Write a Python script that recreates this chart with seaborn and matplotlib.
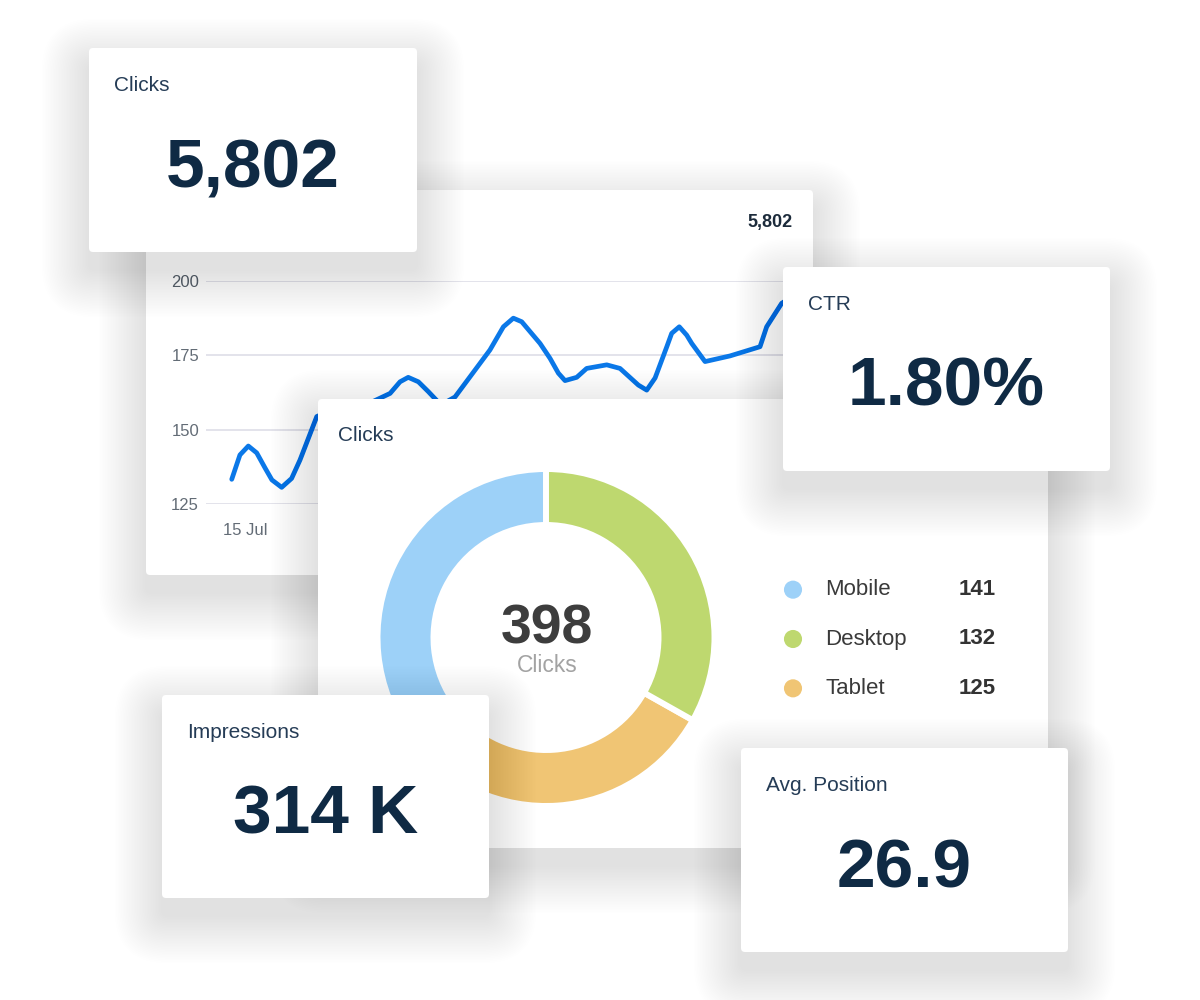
import matplotlib.pyplot as plt
import seaborn as sns
from matplotlib.patches import FancyBboxPatch
from matplotlib.transforms import IdentityTransform

# --- data ---
kpi_labels = ["Clicks", "CTR", "Impressions", "Avg. Position"]
kpi_values = ["5,802", "1.80%", "314 K", "26.9"]

# daily clicks curve (day 0 = 15 Jul)
trend_days = [-0.68, -0.26, 0.17, 0.60, 1.03, 1.38, 1.88, 2.39, 2.82, 3.68,
              5.13, 6.41, 7.44, 7.95, 8.37, 8.89, 9.40, 10.05, 10.77, 12.56,
              13.25, 13.76, 14.19, 15.13, 15.64, 16.07, 16.41, 17.01, 17.52, 18.55,
              19.23, 20.17, 20.60, 21.03, 21.63, 21.88, 22.27, 22.65, 22.91, 23.59,
              24.87, 26.41, 26.75, 27.52, 28.46]
trend_clicks = [133.3, 141.5, 144.5, 142.2, 137.1, 133.1, 130.6, 133.6, 139.8, 154.4,
                158.6, 159.0, 162.2, 166.1, 167.6, 166.1, 162.8, 158.3, 161.0, 176.8,
                184.6, 187.5, 186.3, 179.0, 174.0, 169.0, 166.5, 167.6, 170.6, 171.8,
                170.6, 165.0, 163.3, 167.4, 177.9, 182.4, 184.6, 181.8, 179.0, 172.9,
                174.8, 177.9, 184.6, 192.5, 196.3]
trend_total = "5,802"
y_ticks = [125, 150, 175, 200]
x_tick_days = [0]
x_tick_labels = ["15 Jul"]

devices = ["Mobile", "Desktop", "Tablet"]
device_clicks = [141, 132, 125]
donut_caption = "Clicks"

# --- style ---
device_colors = ["#9dd1f8", "#bed86f", "#f0c574"]
NAVY = "#0f2a44"
LABEL = "#253c56"
LINE_BLUE = "#0b78e8"

sns.set_theme(style="white")
plt.rcParams['font.family'] = ['Liberation Sans', 'DejaVu Sans']

W, H = 1200, 1000
fig = plt.figure(figsize=(12, 10), dpi=100)
fig.patch.set_facecolor("white")


def px_rect(x, y, w, h):
    return [x / W, 1 - (y + h) / H, w / W, h / H]


def fx(x):
    return x / W


def fy(y):
    return 1 - y / H


def card(x, y, w, h, z):
    # soft drop shadow built from stacked translucent boxes
    for i in range(30):
        pad = 1 + i * 1.6
        fig.add_artist(FancyBboxPatch(
            (x, H - (y + h) - 18), w, h,
            boxstyle=f"round,pad={pad},rounding_size={pad + 6}",
            transform=IdentityTransform(), fc="black", ec="none",
            alpha=0.0027, zorder=z - 0.5))
    fig.add_artist(FancyBboxPatch(
        (x, H - (y + h)), w, h, boxstyle="round,pad=0,rounding_size=4",
        transform=IdentityTransform(), fc="white", ec="none", zorder=z))


def kpi_card(x, y, w, h, z, label, value):
    card(x, y, w, h, z)
    fig.text(fx(x + 25), fy(y + 43), label, fontsize=15, color=LABEL,
             va="baseline", ha="left", zorder=z + 0.5)
    fig.text(fx(x + w / 2), fy(y + 139), value, fontsize=50, color=NAVY,
             fontweight="bold", va="baseline", ha="center", zorder=z + 0.5)


# --- line chart card ---
card(146, 190, 667, 385, 10)
fig.text(fx(793), fy(223), trend_total, fontsize=13, fontweight="bold",
         color="#1c2b3b", ha="right", va="center", zorder=10.5)
ax = fig.add_axes(px_rect(206, 281, 594, 223))
ax.set_zorder(10.6)
ax.patch.set_alpha(0)
sns.lineplot(x=trend_days, y=trend_clicks, sort=False, color=LINE_BLUE,
             linewidth=3.4, solid_capstyle="round", solid_joinstyle="round", ax=ax)
ax.set_xlim(-2.0, 28.46)
ax.set_ylim(125, 200)
ax.set_yticks(y_ticks)
ax.set_xticks(x_tick_days)
ax.set_xticklabels(x_tick_labels)
ax.grid(axis="y", color="#e3e3eb", linewidth=1.4)
ax.grid(axis="x", visible=False)
ax.set_axisbelow(True)
sns.despine(ax=ax, left=True, bottom=True)
ax.tick_params(length=0, labelsize=12, labelcolor="#636c76")
ax.tick_params(axis="y", pad=5)
ax.tick_params(axis="x", pad=14)
ax.set_xlabel("")
ax.set_ylabel("")

# --- KPI: clicks ---
kpi_card(89, 48, 328, 204, 20, kpi_labels[0], kpi_values[0])

# --- donut card ---
card(318, 399, 730, 449, 30)
fig.text(fx(338), fy(441), "Clicks", fontsize=15, color=LABEL,
         va="baseline", ha="left", zorder=30.5)
axd = fig.add_axes(px_rect(546 - 170, 637.5 - 170, 340, 340))
axd.set_zorder(30.6)
axd.patch.set_alpha(0)
pie_order = [0, 2, 1]  # mobile, tablet, desktop going counter-clockwise from top
axd.pie([device_clicks[i] for i in pie_order],
        colors=[device_colors[i] for i in pie_order],
        startangle=90, counterclock=True, radius=168.5 / 170,
        wedgeprops=dict(width=56 / 170, edgecolor="white", linewidth=4.3))
axd.set_xlim(-1, 1)
axd.set_ylim(-1, 1)
axd.set_aspect("equal")
axd.axis("off")
fig.text(fx(547), fy(644), f"{sum(device_clicks)}", fontsize=40, fontweight="bold",
         color="#3d3d3d", ha="center", va="baseline", zorder=31)
fig.text(fx(547), fy(672), donut_caption, fontsize=16.5, color="#a3a3a3",
         ha="center", va="baseline", zorder=31)

axl = fig.add_axes(px_rect(780, 565, 230, 148))
axl.set_zorder(30.6)
axl.patch.set_alpha(0)
rows = list(range(len(devices)))
sns.scatterplot(x=[0] * len(devices), y=rows, hue=devices, palette=device_colors,
                s=170, edgecolor="none", legend=False, ax=axl)
for r, name, val in zip(rows, devices, device_clicks):
    axl.text(32, r, name, fontsize=16, color="#3a3a3a", va="center", ha="left")
    axl.text(166, r, str(val), fontsize=16, fontweight="bold", color="#333333",
             va="center", ha="left")
axl.set_xlim(-13, 217)
axl.set_ylim(2.5, -0.5)
axl.axis("off")

# --- KPI cards on top ---
kpi_card(783, 267, 327, 204, 40, kpi_labels[1], kpi_values[1])
kpi_card(162, 695, 327, 203, 50, kpi_labels[2], kpi_values[2])
kpi_card(741, 748, 327, 204, 60, kpi_labels[3], kpi_values[3])

plt.savefig("out.png", dpi=100, facecolor="white")
plt.close()
